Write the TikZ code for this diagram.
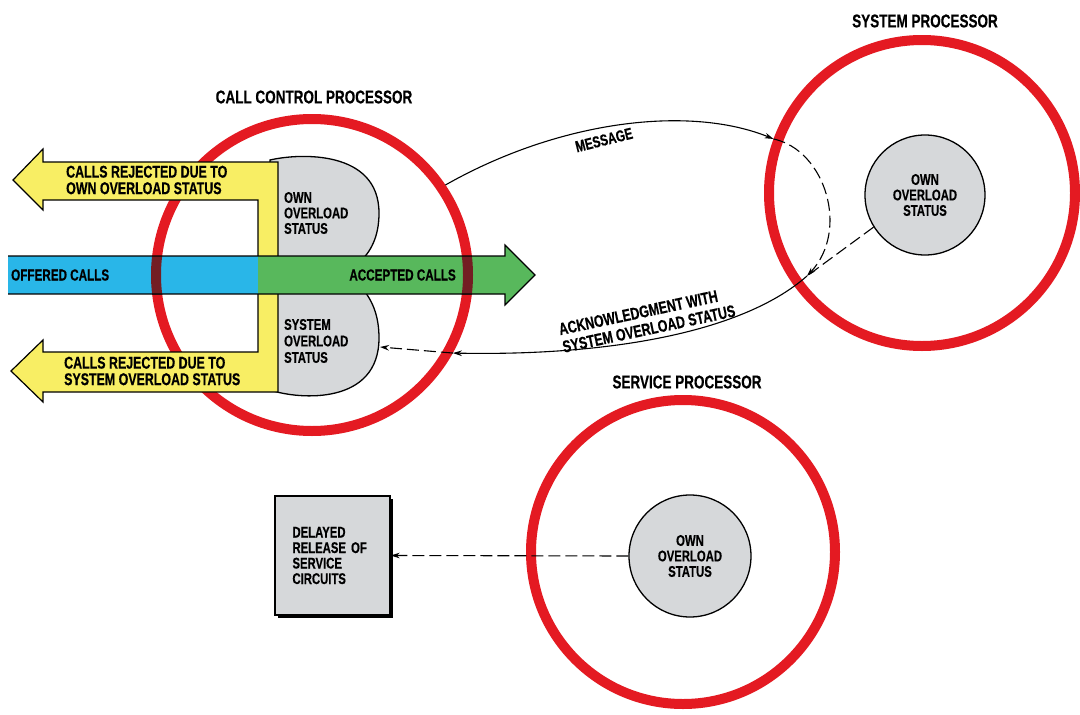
\documentclass[tikz,border=0pt]{standalone}
\usepackage{fontspec}
\setmainfont{Liberation Sans}[FakeStretch=0.73, BoldFeatures={FakeBold=0.4}]
\usetikzlibrary{arrows.meta,shadows}
\definecolor{redc}{RGB}{228,26,34}
\definecolor{darkredc}{RGB}{115,30,35}
\definecolor{yellowc}{RGB}{248,238,100}
\definecolor{bluec}{RGB}{41,182,232}
\definecolor{greenc}{RGB}{88,184,92}
\definecolor{grayc}{RGB}{214,216,218}
\tikzset{
  redring/.style={circle, draw=redc, line width=10pt, inner sep=0pt},
  statcirc/.style={circle, draw=black, line width=1.3pt, fill=grayc, inner sep=0pt, minimum size=120pt, align=center, font=\fontsize{15.5}{15.5}\selectfont\bfseries},
  blobshape/.style={draw=black, line width=1.3pt, fill=grayc},
  lbl/.style={font=\fontsize{16}{16}\selectfont\bfseries, inner sep=0pt, align=left},
  biglbl/.style={lbl, font=\fontsize{17}{16.5}\selectfont\bfseries},
  ttl/.style={font=\fontsize{18.5}{18.5}\selectfont\bfseries, inner sep=0pt},
  conn/.style={line width=1.1pt, -{Stealth[length=9pt,width=5.5pt]}},
  dconn/.style={conn, dash pattern=on 12pt off 5pt},
  boxstyle/.style={draw=black, line width=1.3pt, fill=grayc, minimum width=115pt, minimum height=119pt, text width=80pt, align=left, inner sep=0pt, font=\fontsize{15.5}{15.5}\selectfont\bfseries, drop shadow={shadow xshift=2.5pt, shadow yshift=-2.5pt, fill=black, opacity=1}}
}
\begin{document}
\begin{tikzpicture}[x=1pt,y=-1pt]
\useasboundingbox (0,0) rectangle (1080,715);
\fill[white] (0,0) rectangle (1080,715);

% processor rings
\node[redring, minimum size=312pt] (ccp) at (312,275) {};
\node[redring, minimum size=306pt] (sp) at (922,193) {};
\node[redring, minimum size=304pt] (srv) at (683,552) {};

% status blobs of the call control processor
\draw[blobshape] (270,160) .. controls (300,153) and (379,150) .. (379,213)
  .. controls (379,238) and (370,252) .. (360,262) -- (270,262) -- cycle;
\draw[blobshape] (270,390) .. controls (300,400) and (379,405) .. (379,338)
  .. controls (379,315) and (372,300) .. (362,288) -- (270,288) -- cycle;
\coordinate (sysblob) at (380,347);

% yellow rejected-calls arrows
\draw[fill=yellowc, line width=1.2pt, line join=miter]
  (13,180) -- (43,149) -- (43,162) -- (278,162) -- (278,392) -- (43,392) -- (43,402)
  -- (11,371) -- (43,340) -- (43,352) -- (258,352) -- (258,200) -- (43,200) -- (43,210) -- cycle;

% offered / accepted band
\fill[bluec] (8,256) rectangle (258,294);
\fill[greenc] (258,256) -- (505,256) -- (505,245) -- (535,275) -- (505,305) -- (505,294) -- (258,294) -- cycle;
\begin{scope}
  \clip (8,256) rectangle (505,294);
  \draw[darkredc, line width=10pt] (ccp.center) circle[radius=156];
\end{scope}
\draw[line width=1.2pt, line join=miter] (8,256) -- (505,256) -- (505,245) -- (535,275) -- (505,305) -- (505,294) -- (8,294);

% titles
\node[ttl] (tccp) at (314,97) {CALL CONTROL PROCESSOR};
\node[ttl] (tsp) at (925,21) {SYSTEM PROCESSOR};
\node[ttl] (tsrv) at (687,382) {SERVICE PROCESSOR};

% labels
\node[biglbl, anchor=west] (rejown) at (66,180) {CALLS REJECTED DUE TO\\OWN OVERLOAD STATUS};
\node[biglbl, anchor=west] (rejsys) at (64,371) {CALLS REJECTED DUE TO\\SYSTEM OVERLOAD STATUS};
\node[lbl, anchor=west] (offered) at (11,275) {OFFERED CALLS};
\node[lbl, anchor=east] (accepted) at (456,275) {ACCEPTED CALLS};
\node[lbl, anchor=west, font=\fontsize{15.5}{15.5}\selectfont\bfseries] (owntxt) at (284,213) {OWN\\OVERLOAD\\STATUS};
\node[lbl, anchor=west, font=\fontsize{15.5}{16.5}\selectfont\bfseries] (systxt) at (284,341) {SYSTEM\\OVERLOAD\\STATUS};

% inner status circles
\node[statcirc] (spin) at (925,195) {OWN\\OVERLOAD\\STATUS};
\node[statcirc, minimum size=122pt] (svin) at (690,556) {OWN\\OVERLOAD\\STATUS};

% delayed release box
\node[boxstyle] (box) at (332.5,555.5) {DELAYED\\RELEASE OF\\SERVICE\\CIRCUITS};

% connectors
\coordinate (j) at (807,276);
\draw[conn] (ccp.34) .. controls (560,120) and (690,105) .. (sp.160);
\node[lbl, rotate=14] (msg) at (604,140) {MESSAGE};
\draw[dconn] (sp.160) .. controls (825,150) and (850,230) .. (j);
\draw[line width=1.1pt, dash pattern=on 12pt off 5pt] (spin.212) -- (j);
\draw[conn] (j) .. controls (740,335) and (600,356) .. (ccp.-29);
\draw[dconn] (ccp.-29) -- (sysblob);
\node[lbl, rotate=12, font=\fontsize{17}{18}\selectfont\bfseries] (ack) at (647,320) {ACKNOWLEDGMENT WITH\\SYSTEM OVERLOAD STATUS};
\draw[dconn] (svin.west) -- (box.east);
\end{tikzpicture}
\end{document}
